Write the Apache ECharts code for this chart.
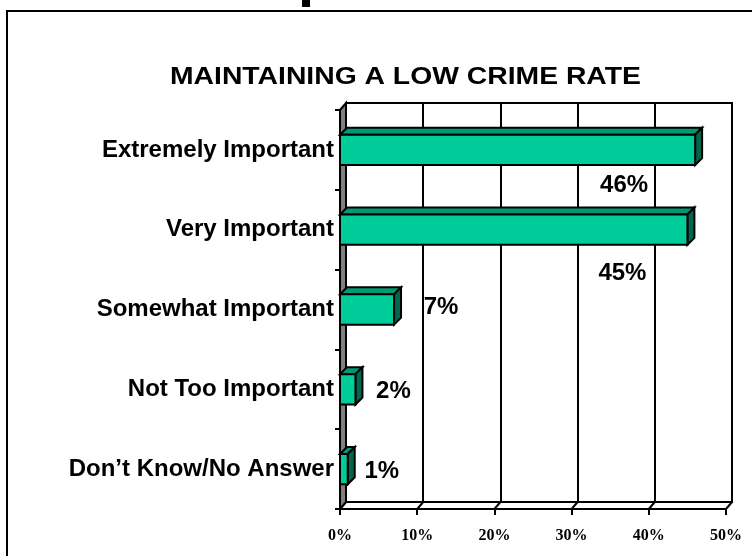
<!DOCTYPE html>
<html>
<head>
<meta charset="utf-8">
<script src="https://cdn.jsdelivr.net/npm/echarts@6/dist/echarts.min.js"></script>
<style>html,body{margin:0;padding:0;background:#fff}#c{width:752px;height:556px}</style>
</head>
<body>
<div id="c"></div>
<script>
const chartTitle = 'MAINTAINING A LOW CRIME RATE';
const categories = ['Extremely Important', 'Very Important', 'Somewhat Important', 'Not Too Important', 'Don\u2019t Know/No Answer'];
const values = [46, 45, 7, 2, 1];
const valueLabels = ['46%', '45%', '7%', '2%', '1%'];
const xTicks = [0, 10, 20, 30, 40, 50];

// styling (label placement relative to bar end)
const labelOffsets = [[-71, 35], [-65, 44], [47, -2], [38, 2], [34, 2]];
const DX = 6, DY = 7, BD = 7;
const FRONT = '#00CC99', TOP = '#009973', SIDE = '#00664C';

const chart = echarts.init(document.getElementById('c'), null, {renderer: 'canvas'});

const option = {
  backgroundColor: '#fff',
  animation: false,
  graphic: [
    {type: 'text', x: 170, y: 65, scaleX: 1.18, originX: 0, originY: 0, z: 100,
      style: {text: chartTitle, fill: '#000', font: 'bold 24px "Liberation Sans", Arial, sans-serif', align: 'left', verticalAlign: 'top'}},
    {type: 'rect', shape: {x: 7, y: 11, width: 800, height: 600}, style: {fill: null, stroke: '#000', lineWidth: 2}, z: 100},
    {type: 'rect', shape: {x: 302, y: 0, width: 8, height: 7}, style: {fill: '#000'}, z: 100}
  ],
  grid: [
    {left: 346, right: 20, top: 103, bottom: 54, show: true, borderColor: '#000', borderWidth: 2, backgroundColor: 'transparent'},
    {left: 340, right: 26, top: 110, bottom: 47}
  ],
  xAxis: [
    {gridIndex: 0, type: 'value', min: 0, max: 50, interval: 10,
      axisLine: {show: false}, axisTick: {show: false}, axisLabel: {show: false},
      splitLine: {show: true, lineStyle: {color: '#000', width: 2}}},
    {gridIndex: 1, type: 'value', min: 0, max: 50, interval: 10,
      axisLine: {show: true, lineStyle: {color: '#000', width: 2}},
      axisTick: {show: true, length: 6, lineStyle: {color: '#000', width: 2}},
      splitLine: {show: false},
      axisLabel: {formatter: '{value}%', margin: 19, fontFamily: 'Liberation Serif, Times New Roman, serif', fontWeight: 'bold', fontSize: 16, color: '#000'}}
  ],
  yAxis: [
    {gridIndex: 0, type: 'category', data: categories, inverse: true, show: false},
    {gridIndex: 1, type: 'category', data: categories, inverse: true,
      axisLine: {show: true, lineStyle: {color: '#000', width: 2}},
      axisTick: {show: true, length: 5, lineStyle: {color: '#000', width: 2}},
      axisLabel: {margin: 6, padding: [4, 0, 0, 0], fontFamily: 'Liberation Sans, Arial, sans-serif', fontWeight: 'bold', fontSize: 24, color: '#000'}}
  ],
  series: [
    { // floor diagonals
      type: 'custom', xAxisIndex: 1, yAxisIndex: 1, z: 1,
      data: xTicks.map(v => [v, 0]),
      renderItem: function (params, api) {
        const cs = params.coordSys;
        const x = api.coord([api.value(0), 0])[0];
        const yb = cs.y + cs.height;
        return {type: 'line', shape: {x1: x, y1: yb, x2: x + DX, y2: yb - DY}, style: {stroke: '#000', lineWidth: 2}};
      }
    },
    { // left wall
      type: 'custom', xAxisIndex: 1, yAxisIndex: 1, z: 1,
      data: [[0, 0]],
      renderItem: function (params, api) {
        const cs = params.coordSys;
        const x = api.coord([0, 0])[0];
        const t = cs.y, b = cs.y + cs.height;
        return {type: 'polygon', shape: {points: [[x, t], [x + DX, t - DY], [x + DX, b - DY], [x, b]]},
          style: {fill: '#808080', stroke: '#000', lineWidth: 2}};
      }
    },
    { // 3D bars
      type: 'custom', xAxisIndex: 1, yAxisIndex: 1, z: 3,
      data: values.map((v, i) => [v, i]),
      renderItem: function (params, api) {
        const i = params.dataIndex;
        const v = api.value(0);
        const p0 = api.coord([0, api.value(1)]);
        const p1 = api.coord([v, api.value(1)]);
        const band = api.size([0, 1])[1];
        const h = band * 0.38;
        const x0 = p0[0], x1 = p1[0], yt = p0[1] - h / 2, yb = p0[1] + h / 2;
        const st = {stroke: '#000', lineWidth: 2, lineJoin: 'miter'};
        const off = labelOffsets[i];
        return {type: 'group', children: [
          {type: 'polygon', shape: {points: [[x0, yt], [x0 + BD, yt - BD], [x1 + BD, yt - BD], [x1, yt]]}, style: Object.assign({fill: TOP}, st)},
          {type: 'polygon', shape: {points: [[x1, yt], [x1 + BD, yt - BD], [x1 + BD, yb - BD], [x1, yb]]}, style: Object.assign({fill: SIDE}, st)},
          {type: 'rect', shape: {x: x0, y: yt, width: x1 - x0, height: yb - yt}, style: Object.assign({fill: FRONT}, st)},
          {type: 'text', x: x1 + off[0], y: p0[1] + off[1],
            style: {text: valueLabels[i], fill: '#000', font: 'bold 24px "Liberation Sans", Arial, sans-serif', align: 'center', verticalAlign: 'middle'}}
        ]};
      }
    }
  ]
};
chart.setOption(option);
</script>
</body>
</html>
